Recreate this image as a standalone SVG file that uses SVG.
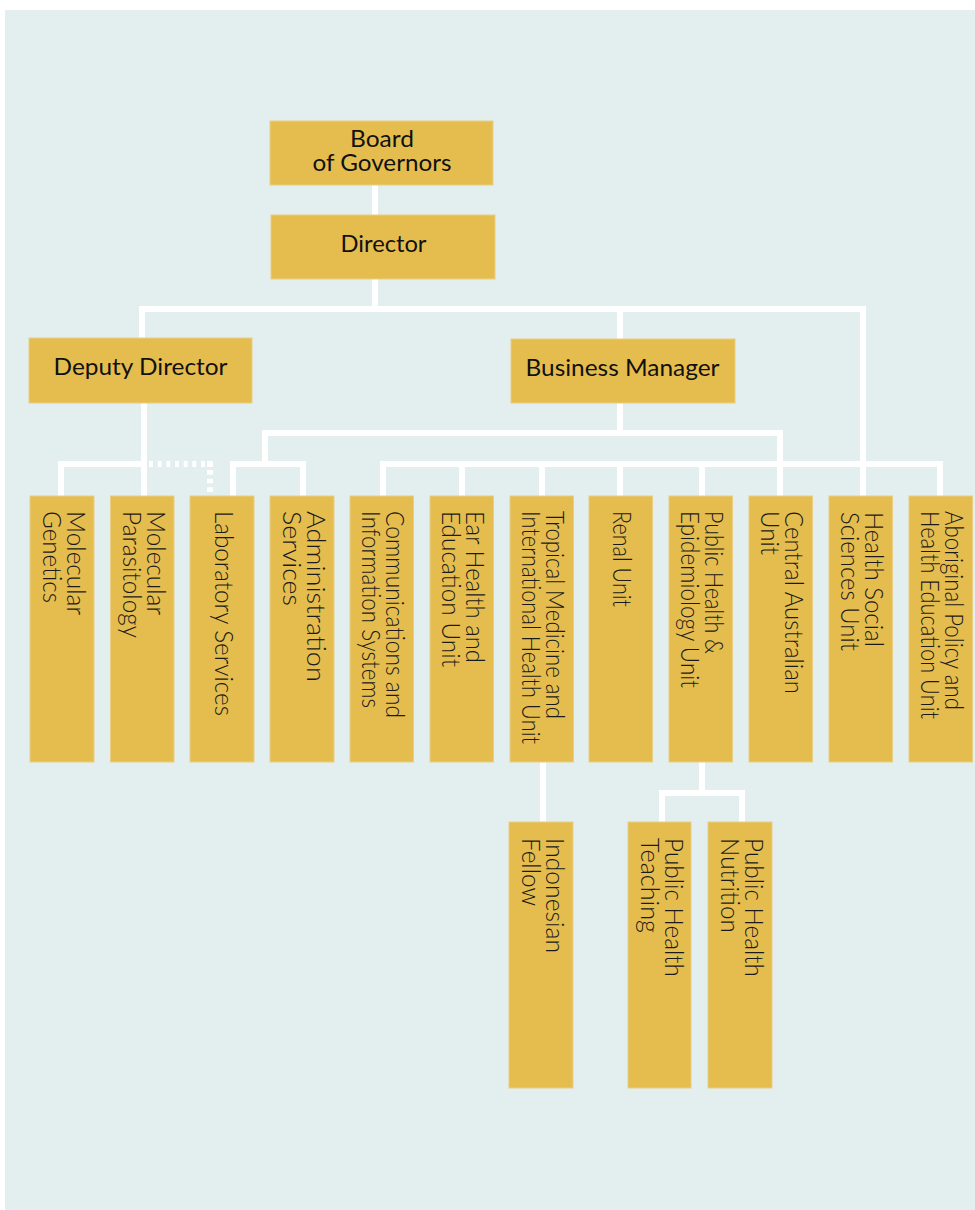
<svg xmlns="http://www.w3.org/2000/svg" width="975" height="1210" viewBox="0 0 975 1210">
<style>
.bg{fill:#e3efef}
.box{fill:#e5bd4e;stroke:#e9cd85;stroke-width:1}
.h{font-family:Lato,"Liberation Sans",sans-serif;font-size:24px;fill:#111;text-anchor:middle}
.v{font-family:Lato,"Liberation Sans",sans-serif;font-weight:300;font-size:25px;fill:#1a1a1a}
.conn{fill:none;stroke:#fff;stroke-width:6;stroke-linejoin:miter}
</style>
<rect class="bg" x="5" y="10" width="970" height="1200"/>
<g id="connectors">
<path class="conn" d="M375 185V215"/>
<path class="conn" d="M375 279V309"/>
<path class="conn" d="M142 338V309H863V496"/>
<path class="conn" d="M620 309V339"/>
<path class="conn" d="M144 403V496"/>
<path class="conn" d="M61 496V464H144"/>
<path class="conn" d="M149 464H205" stroke-dasharray="4 4.67"/>
<path class="conn" d="M207 464H213"/>
<path class="conn" d="M210 470V492" stroke-dasharray="4.67 4"/>
<path class="conn" d="M233 496V464H303V496"/>
<path class="conn" d="M620 403V433"/>
<path class="conn" d="M265 464V433H780V496"/>
<path class="conn" d="M383 496V464H940V496"/>
<path class="conn" d="M462 464V496M542 464V496M620 464V496M702 464V496"/>
<path class="conn" d="M543 762V822"/>
<path class="conn" d="M702 762V793"/>
<path class="conn" d="M662 822V793H742V822"/>
</g>
<g id="board"><rect class="box" x="270" y="121" width="223" height="64"/><text class="h" x="382" y="147" textLength="64" lengthAdjust="spacingAndGlyphs">Board</text><text class="h" x="382" y="171" textLength="139" lengthAdjust="spacingAndGlyphs">of Governors</text></g>
<g id="director"><rect class="box" x="271" y="215" width="224" height="64"/><text class="h" x="383.5" y="252" textLength="86" lengthAdjust="spacingAndGlyphs">Director</text></g>
<g id="deputy"><rect class="box" x="29" y="338" width="223" height="65"/><text class="h" x="140.5" y="375" textLength="174" lengthAdjust="spacingAndGlyphs">Deputy Director</text></g>
<g id="business"><rect class="box" x="511" y="339" width="224" height="64"/><text class="h" x="622.5" y="376" textLength="194" lengthAdjust="spacingAndGlyphs">Business Manager</text></g>
<g id="molgen"><rect class="box" x="30" y="496" width="64" height="266"/>
<text class="v" transform="translate(66.5,511) rotate(90)" textLength="104" lengthAdjust="spacingAndGlyphs">Molecular</text>
<text class="v" transform="translate(42.5,511) rotate(90)" textLength="92" lengthAdjust="spacingAndGlyphs">Genetics</text></g>
<g id="molpar"><rect class="box" x="110.5" y="496" width="63.5" height="266"/>
<text class="v" transform="translate(146.7,511) rotate(90)" textLength="104" lengthAdjust="spacingAndGlyphs">Molecular</text>
<text class="v" transform="translate(122.7,511) rotate(90)" textLength="127" lengthAdjust="spacingAndGlyphs">Parasitology</text></g>
<g id="lab"><rect class="box" x="190" y="496" width="64" height="266"/>
<text class="v" transform="translate(215,511) rotate(90)" textLength="205" lengthAdjust="spacingAndGlyphs">Laboratory Services</text></g>
<g id="admin"><rect class="box" x="270" y="496" width="64" height="266"/>
<text class="v" transform="translate(306.5,511) rotate(90)" textLength="171" lengthAdjust="spacingAndGlyphs">Administration</text>
<text class="v" transform="translate(282.5,511) rotate(90)" textLength="95" lengthAdjust="spacingAndGlyphs">Services</text></g>
<g id="comm"><rect class="box" x="350" y="496" width="63.5" height="266"/>
<text class="v" transform="translate(386,511) rotate(90)" textLength="207" lengthAdjust="spacingAndGlyphs">Communications and</text>
<text class="v" transform="translate(362,511) rotate(90)" textLength="197" lengthAdjust="spacingAndGlyphs">Information Systems</text></g>
<g id="ear"><rect class="box" x="430" y="496" width="63.5" height="266"/>
<text class="v" transform="translate(466,511) rotate(90)" textLength="152" lengthAdjust="spacingAndGlyphs">Ear Health and</text>
<text class="v" transform="translate(442,511) rotate(90)" textLength="156" lengthAdjust="spacingAndGlyphs">Education Unit</text></g>
<g id="tropical"><rect class="box" x="510" y="496" width="63.5" height="266"/>
<text class="v" transform="translate(546,511) rotate(90)" textLength="208" lengthAdjust="spacingAndGlyphs">Tropical Medicine and</text>
<text class="v" transform="translate(522,511) rotate(90)" textLength="233" lengthAdjust="spacingAndGlyphs">International Health Unit</text></g>
<g id="renal"><rect class="box" x="589" y="496" width="63.5" height="266"/>
<text class="v" transform="translate(613,511) rotate(90)" textLength="96" lengthAdjust="spacingAndGlyphs">Renal Unit</text></g>
<g id="pubhealth"><rect class="box" x="669" y="496" width="63.5" height="266"/>
<text class="v" transform="translate(705,511) rotate(90)" textLength="143" lengthAdjust="spacingAndGlyphs">Public Health &amp;</text>
<text class="v" transform="translate(681,511) rotate(90)" textLength="177" lengthAdjust="spacingAndGlyphs">Epidemiology Unit</text></g>
<g id="central"><rect class="box" x="749" y="496" width="63.5" height="266"/>
<text class="v" transform="translate(785,511) rotate(90)" textLength="183" lengthAdjust="spacingAndGlyphs">Central Australian</text>
<text class="v" transform="translate(761,511) rotate(90)" textLength="44" lengthAdjust="spacingAndGlyphs">Unit</text></g>
<g id="hss"><rect class="box" x="829" y="496" width="63.5" height="266"/>
<text class="v" transform="translate(865,512) rotate(90)" textLength="135" lengthAdjust="spacingAndGlyphs">Health Social</text>
<text class="v" transform="translate(841,512) rotate(90)" textLength="139" lengthAdjust="spacingAndGlyphs">Sciences Unit</text></g>
<g id="aboriginal"><rect class="box" x="909" y="496" width="63.5" height="266"/>
<text class="v" transform="translate(945,511) rotate(90)" textLength="199" lengthAdjust="spacingAndGlyphs">Aboriginal Policy and</text>
<text class="v" transform="translate(921,511) rotate(90)" textLength="208" lengthAdjust="spacingAndGlyphs">Health Education Unit</text></g>
<g id="indonesian"><rect class="box" x="509" y="822" width="64" height="266"/>
<text class="v" transform="translate(545.5,838) rotate(90)" textLength="115" lengthAdjust="spacingAndGlyphs">Indonesian</text>
<text class="v" transform="translate(521.5,838) rotate(90)" textLength="68" lengthAdjust="spacingAndGlyphs">Fellow</text></g>
<g id="phteaching"><rect class="box" x="628" y="822" width="63" height="266"/>
<text class="v" transform="translate(665,838) rotate(90)" textLength="139" lengthAdjust="spacingAndGlyphs">Public Health</text>
<text class="v" transform="translate(641,838) rotate(90)" textLength="95" lengthAdjust="spacingAndGlyphs">Teaching</text></g>
<g id="phnutrition"><rect class="box" x="708" y="822" width="64" height="266"/>
<text class="v" transform="translate(745,838) rotate(90)" textLength="139" lengthAdjust="spacingAndGlyphs">Public Health</text>
<text class="v" transform="translate(721,838) rotate(90)" textLength="95" lengthAdjust="spacingAndGlyphs">Nutrition</text></g>
</svg>
